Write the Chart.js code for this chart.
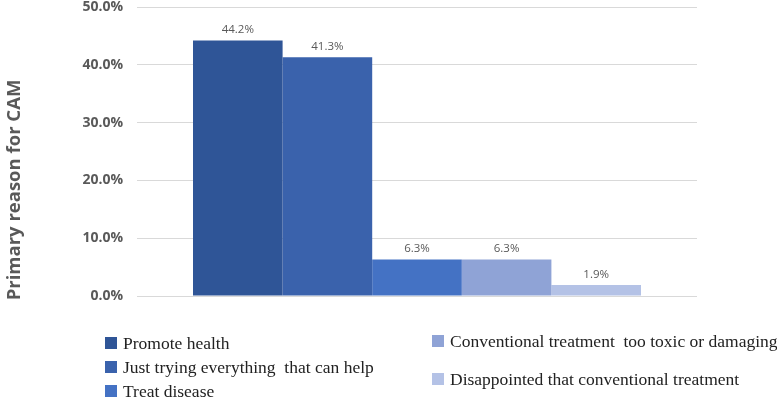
<!DOCTYPE html>
<html>
<head>
<meta charset="utf-8">
<script src="https://cdn.jsdelivr.net/npm/chart.js@4"></script>
<style>
  body { margin: 0; background: #fff; }
  #wrap { position: relative; width: 777px; height: 404px; }
  #legend { position: absolute; left: 0; top: 0; width: 777px; height: 404px; pointer-events: none;
            font-family: "Liberation Serif", "Times New Roman", serif; font-size: 17.5px; color: #222; }
  .item { position: absolute; white-space: pre; line-height: 20px; }
  .item span.box { position: absolute; left: 0; top: 4px; width: 12px; height: 12px; }
  .item span.txt { position: absolute; left: 18px; top: 0; }
</style>
</head>
<body>
<div id="wrap">
  <canvas id="barChart" width="777" height="404"></canvas>
  <div id="legend"></div>
</div>
<script>
const categories = [''];
const seriesNames = [
    'Promote health',
    'Just trying everything  that can help',
    'Treat disease',
    'Conventional treatment  too toxic or damaging',
    'Disappointed that conventional treatment'
];
const seriesValues = [44.2, 41.3, 6.3, 6.3, 1.9];
const yTicks = [0, 10, 20, 30, 40, 50];
const colors = ['#2F5597', '#3A62AC', '#4472C4', '#8FA3D6', '#B4C2E6'];

const labelPlugin = {
    id: 'valueLabels',
    afterDatasetsDraw(chart) {
        const ctx = chart.ctx;
        ctx.save();
        ctx.font = '11.5px "Open Sans", sans-serif';
        ctx.fillStyle = '#595959';
        ctx.textAlign = 'center';
        ctx.textBaseline = 'bottom';
        chart.data.datasets.forEach((ds, i) => {
            const meta = chart.getDatasetMeta(i);
            meta.data.forEach((bar, j) => {
                ctx.fillText(ds.data[j].toFixed(1) + '%', bar.x, bar.y - 5);
            });
        });
        // y axis title
        ctx.translate(15, 190);
        ctx.rotate(-Math.PI / 2);
        ctx.font = 'bold 18.5px "Open Sans", sans-serif';
        ctx.fillStyle = '#595959';
        ctx.textBaseline = 'middle';
        ctx.fillText('Primary reason for CAM', 0, 0);
        ctx.restore();
    }
};

const barCtx = document.getElementById('barChart');
const chart = new Chart(barCtx, {
    type: 'bar',
    data: {
        labels: categories,
        datasets: seriesNames.map((name, i) => ({
            label: name,
            data: [seriesValues[i]],
            backgroundColor: colors[i],
            borderWidth: 0
        }))
    },
    options: {
        responsive: false,
        animation: false,
        categoryPercentage: 0.8,
        barPercentage: 1.0,
        layout: { padding: { left: 0, right: 80, top: 7, bottom: 108 } },
        plugins: {
            legend: { display: false },
            tooltip: { enabled: false }
        },
        scales: {
            x: { display: false },
            y: {
                min: yTicks[0],
                max: yTicks[yTicks.length - 1],
                afterFit: (scale) => {
                    scale.width = 137;
                    scale.paddingTop = 0;
                    scale.paddingBottom = 0;
                },
                afterBuildTicks: (scale) => { scale.ticks = yTicks.map(v => ({ value: v })); },
                border: { display: false },
                grid: { color: '#d9d9d9', drawTicks: false },
                ticks: {
                    padding: 14,
                    color: '#595959',
                    font: { family: '"Open Sans", sans-serif', size: 14, weight: 'bold' },
                    callback: (v) => v.toFixed(1) + '%'
                }
            }
        }
    },
    plugins: [labelPlugin]
});

// legend built from the datasets
const legendPos = [
    [105, 343], [105, 367], [105, 391],
    [432, 341], [432, 379]
];
const legend = document.getElementById('legend');
chart.data.datasets.forEach((ds, i) => {
    const el = document.createElement('div');
    el.className = 'item';
    el.style.left = legendPos[i][0] + 'px';
    el.style.top = (legendPos[i][1] - 10) + 'px';
    el.innerHTML = '<span class="box"></span><span class="txt"></span>';
    el.querySelector('.box').style.background = ds.backgroundColor;
    el.querySelector('.txt').textContent = ds.label;
    legend.appendChild(el);
});
</script>
</body>
</html>
